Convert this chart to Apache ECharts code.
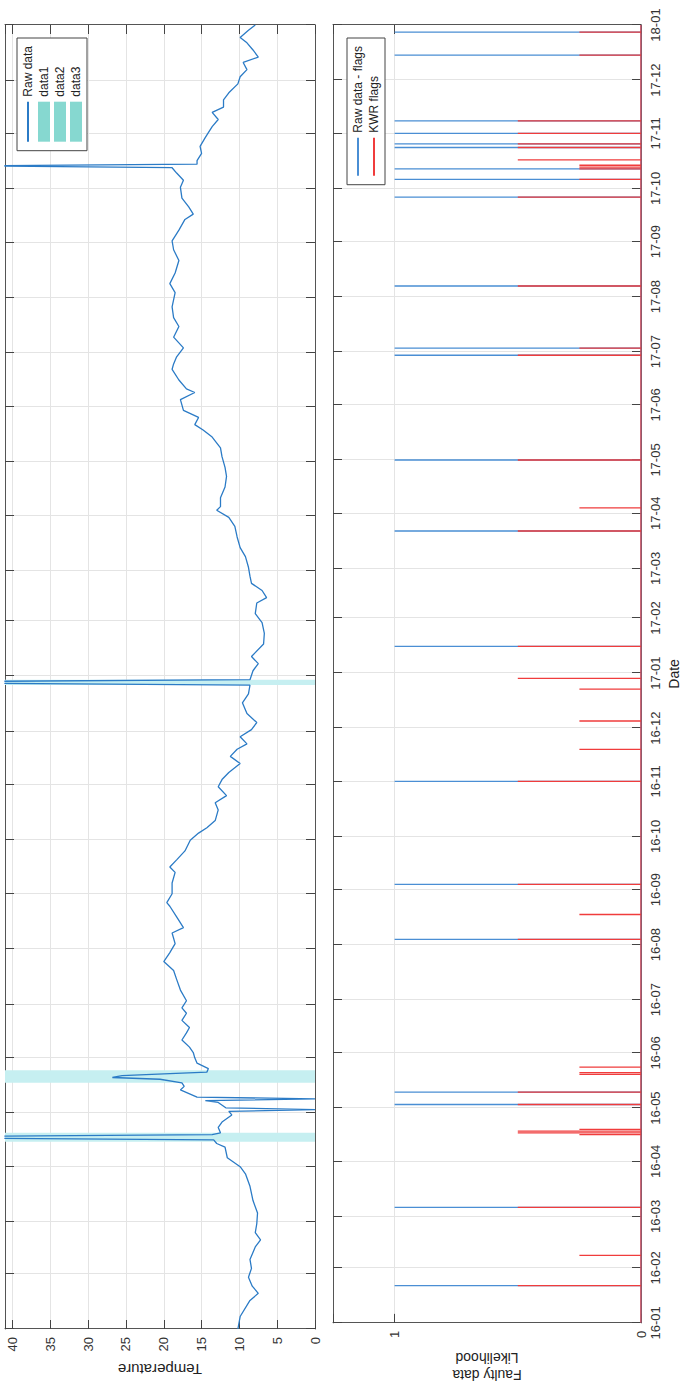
<!DOCTYPE html>
<html><head><meta charset="utf-8">
<script src="https://cdn.jsdelivr.net/npm/echarts@6/dist/echarts.min.js"></script>
<style>
html,body{margin:0;padding:0;width:682px;height:1391px;overflow:hidden;background:#fff}
#c{position:absolute;left:0;top:0;width:1391px;height:682px;transform-origin:0 0;transform:translateY(1391px) rotate(-90deg);}
</style></head><body><div id="c"></div>
<script>
// ---- data ----
const dateMin = '2016-01-01';
const dateMax = '2018-01-01';
const tempDates = [
'2016-01-01','2016-01-08','2016-01-17','2016-01-21','2016-01-25','2016-01-30','2016-02-04','2016-02-09','2016-02-16','2016-02-20',
'2016-02-24','2016-02-29','2016-03-06','2016-03-13','2016-03-21','2016-03-28','2016-04-01','2016-04-06','2016-04-12','2016-04-14',
'2016-04-16','2016-04-17','2016-04-18','2016-04-19','2016-04-20','2016-04-23','2016-04-26','2016-04-30','2016-05-02','2016-05-03',
'2016-05-04','2016-05-07','2016-05-08','2016-05-09','2016-05-10','2016-05-14','2016-05-16','2016-05-18','2016-05-20','2016-05-21',
'2016-05-22','2016-05-23','2016-05-24','2016-05-26','2016-05-29','2016-06-01','2016-06-04','2016-06-07','2016-06-11','2016-06-15',
'2016-06-18','2016-06-22','2016-06-26','2016-06-29','2016-07-03','2016-07-09','2016-07-15','2016-07-20','2016-07-25','2016-07-30',
'2016-08-04','2016-08-10','2016-08-13','2016-08-19','2016-08-25','2016-08-27','2016-09-01','2016-09-07','2016-09-13','2016-09-16',
'2016-09-20','2016-09-25','2016-10-01','2016-10-05','2016-10-08','2016-10-12','2016-10-18','2016-10-22','2016-10-26','2016-10-31',
'2016-11-04','2016-11-08','2016-11-13','2016-11-17','2016-11-21','2016-11-24','2016-11-28','2016-12-02','2016-12-06','2016-12-11',
'2016-12-17','2016-12-22','2016-12-27','2016-12-28','2016-12-29','2016-12-30','2017-01-04','2017-01-08','2017-01-12','2017-01-19',
'2017-01-25','2017-01-31','2017-02-05','2017-02-11','2017-02-14','2017-02-18','2017-02-22','2017-02-26','2017-03-03','2017-03-09',
'2017-03-14','2017-03-20','2017-03-26','2017-03-31','2017-04-04','2017-04-06','2017-04-11','2017-04-17','2017-04-23','2017-04-28',
'2017-05-04','2017-05-09','2017-05-15','2017-05-19','2017-05-22','2017-05-26','2017-05-30','2017-06-05','2017-06-09','2017-06-11',
'2017-06-16','2017-06-22','2017-06-25','2017-06-29','2017-07-04','2017-07-10','2017-07-16','2017-07-21','2017-07-27','2017-08-04',
'2017-08-09','2017-08-15','2017-08-22','2017-08-28','2017-09-02','2017-09-08','2017-09-14','2017-09-17','2017-09-21','2017-09-26',
'2017-10-02','2017-10-06','2017-10-10','2017-10-13','2017-10-14','2017-10-15','2017-10-17','2017-10-21','2017-10-25','2017-10-30',
'2017-11-05','2017-11-09','2017-11-13','2017-11-16','2017-11-20','2017-11-24','2017-11-29','2017-12-03','2017-12-07','2017-12-11',
'2017-12-14','2017-12-18','2017-12-22','2017-12-25','2017-12-29','2018-01-01'];
const tempValues = [
10.2,9.9,8.6,7.5,8.3,8.8,8.4,8.6,7.9,7.2,
7.9,7.7,7.6,8.2,8.6,9.2,9.9,11.6,11.9,13.0,
13.4,45,45,13.6,12.5,12.8,12.3,11.0,11.4,0,
11.8,12.8,14.5,0,15.6,17.8,17.3,17.6,20.5,26.8,
25.5,20.0,14.3,14.1,15.6,15.9,16.1,16.6,17.6,17.0,
16.6,17.6,17.0,17.6,17.0,17.8,18.3,18.7,20.0,19.2,
18.5,18.9,17.4,18.3,19.2,19.6,18.9,18.9,18.5,19.2,
18.3,17.2,16.5,15.4,14.3,13.2,12.8,13.2,11.7,12.8,
12.3,11.4,9.9,11.2,10.3,9.0,9.9,8.4,7.7,9.0,
9.6,8.8,8.6,45,45,8.6,8.2,7.5,8.4,6.8,
6.7,7.0,7.9,7.7,6.4,7.0,8.4,8.6,8.8,9.2,
9.9,10.3,10.6,11.4,13.0,12.5,12.5,11.9,11.7,11.9,
12.3,12.5,13.6,14.8,15.9,15.4,17.4,17.8,15.9,17.0,
18.0,18.9,18.7,18.3,17.4,18.7,18.0,18.7,18.9,18.5,
19.2,18.5,18.0,18.7,18.9,18.0,17.2,16.1,16.7,17.6,
17.8,17.4,18.3,18.9,45,15.6,15.6,15.0,15.2,14.5,
13.6,12.8,13.6,12.1,12.1,11.4,10.2,9.9,9.0,9.5,
7.5,8.2,9.0,9.9,8.8,7.9];
const bandNames = ['data1','data2','data3'];
const bandStart = ['2016-04-15','2016-05-18','2016-12-27'];
const bandEnd   = ['2016-04-20','2016-05-25','2016-12-30'];
const rawFlagDates = ['2016-01-22','2016-03-06','2016-05-03','2016-05-10','2016-08-04','2016-09-04','2016-11-01','2017-01-16','2017-03-22','2017-05-01','2017-06-29','2017-07-03','2017-08-07','2017-09-26','2017-10-06','2017-10-12','2017-10-24','2017-10-26','2017-11-01','2017-11-08','2017-12-15','2017-12-28'];
const rawFlagValues = [1,1,1,1,1,1,1,1,1,1,1,1,1,1,1,1,1,1,1,1,1,1];
const kwrFlagDates = ['2016-01-22','2016-02-08','2016-03-06','2016-04-16','2016-04-17','2016-04-18','2016-04-19','2016-05-03','2016-05-10','2016-05-20','2016-05-21','2016-05-24','2016-08-04','2016-08-18','2016-09-04','2016-11-01','2016-11-19','2016-12-05','2016-12-23','2016-12-29','2017-01-16','2017-03-22','2017-04-04','2017-05-01','2017-06-29','2017-07-03','2017-08-07','2017-09-26','2017-10-06','2017-10-12','2017-10-13','2017-10-14','2017-10-17','2017-10-24','2017-10-26','2017-11-01','2017-11-08','2017-12-15','2017-12-28'];
const kwrFlagValues = [0.5,0.25,0.5,0.25,0.5,0.5,0.25,0.5,0.5,0.25,0.25,0.25,0.5,0.25,0.5,0.5,0.25,0.25,0.25,0.5,0.5,0.5,0.25,0.5,0.5,0.25,0.5,0.5,0.25,0.25,0.25,0.25,0.5,0.5,0.5,0.5,0.5,0.25,0.25];
const tempTicks = [0,5,10,15,20,25,30,35,40];
const likeTicks = [0,1];

// ---- build ----
function stems(dates, vals){
  const pts=[[dateMin,0]];
  dates.forEach((d,i)=>{pts.push([d,0]);pts.push([d,vals[i]]);pts.push([d,0]);});
  pts.push([dateMax,0]);
  return pts;
}
const FONT='"Liberation Sans", Arial, sans-serif';
const frame={show:true,onZero:false,lineStyle:{color:'#555',width:1}};
const tick={show:true,inside:true,length:9,lineStyle:{color:'#444',width:1}};
const grid1={lineStyle:{color:'#e4e4e4',width:1}};
function timeAxis(gi,pos,opts){
  return Object.assign({gridIndex:gi,type:'time',position:pos,min:dateMin,max:dateMax,
    splitNumber:24,minInterval:28*86400000,maxInterval:31*86400000,
    axisLine:frame,axisTick:tick,axisLabel:{show:false},splitLine:{show:false}},opts||{});
}
function valAxis(gi,pos,max,interval,ticks,opts){
  return Object.assign({gridIndex:gi,type:'value',position:pos,min:0,max:max,interval:interval,
    axisLine:frame,axisTick:tick,axisLabel:{show:false},splitLine:{show:false}},opts||{});
}
const noSym={opacity:0};
const chart=echarts.init(document.getElementById('c'),null,{renderer:'svg',width:1391,height:682});
const option={
  animation:false,
  backgroundColor:'#fff',
  textStyle:{fontFamily:FONT},
  grid:[{left:62,right:25,top:5,height:310},{left:62,right:25,top:333,height:309}],
  xAxis:[
    timeAxis(0,'bottom',{splitLine:Object.assign({show:true},grid1)}),
    timeAxis(0,'top'),
    timeAxis(1,'bottom',{splitLine:Object.assign({show:true},grid1),
      axisLabel:{show:true,formatter:'{yy}-{MM}',fontSize:13,color:'#333',margin:8,showMinLabel:true,showMaxLabel:true,hideOverlap:false,fontFamily:FONT},
      name:'Date',nameLocation:'middle',nameGap:26,nameTextStyle:{fontSize:14,color:'#222',fontFamily:FONT}}),
    timeAxis(1,'top')
  ],
  yAxis:[
    valAxis(0,'left',41,5,tempTicks,{splitLine:Object.assign({show:true},grid1),
      axisLabel:{show:true,fontSize:13,color:'#333',margin:8,fontFamily:FONT,
        formatter:v=>tempTicks.indexOf(v)>=0?String(v):''},
      name:'Temperature',nameLocation:'middle',nameGap:30,nameTextStyle:{fontSize:15,color:'#222',fontFamily:FONT}}),
    valAxis(0,'right',41,5,tempTicks),
    valAxis(1,'left',1.25,1,likeTicks,{splitLine:Object.assign({show:true},grid1),
      axisLabel:{show:true,fontSize:13,color:'#333',margin:8,fontFamily:FONT,
        formatter:v=>likeTicks.indexOf(v)>=0?String(v):''},
      name:'Faulty data\nLikelihood',nameLocation:'middle',nameGap:24,nameTextStyle:{fontSize:14,color:'#222',lineHeight:17,fontFamily:FONT}}),
    valAxis(1,'right',1.25,1,likeTicks)
  ],
  legend:[
    {right:38,top:17,orient:'vertical',itemWidth:40,itemHeight:12,itemGap:4,padding:[5,8,5,8],
     borderColor:'#444',borderWidth:1,backgroundColor:'#fff',
     textStyle:{fontSize:12,color:'#222',fontFamily:FONT},
     data:[{name:'Raw data',itemStyle:noSym}].concat(bandNames.map(n=>({name:n,icon:'rect'})))},
    {right:38,top:347,orient:'vertical',itemWidth:38,itemHeight:12,itemGap:4,padding:[5,8,5,8],
     borderColor:'#444',borderWidth:1,backgroundColor:'#fff',
     textStyle:{fontSize:12,color:'#222',fontFamily:FONT},
     data:[{name:'Raw data - flags',itemStyle:noSym},{name:'KWR flags',itemStyle:noSym}]}
  ],
  series:[
    ...bandNames.map((n,i)=>({name:n,type:'line',xAxisIndex:0,yAxisIndex:0,data:[],symbol:'none',
      itemStyle:{color:'#86d8d0'},lineStyle:{color:'#86d8d0'},z:1,
      markArea:{silent:true,itemStyle:{color:'#c6eff1',opacity:1},data:[[{xAxis:bandStart[i]},{xAxis:bandEnd[i]}]]}})),
    {name:'Raw data',type:'line',xAxisIndex:0,yAxisIndex:0,symbol:'none',showSymbol:false,clip:true,z:3,
     data:tempDates.map((d,i)=>[d,tempValues[i]]),
     itemStyle:{color:'#2b7bc6'},lineStyle:{color:'#2b7bc6',width:1.3}},
    {name:'Raw data - flags',type:'line',xAxisIndex:2,yAxisIndex:2,symbol:'none',showSymbol:false,z:3,
     data:stems(rawFlagDates,rawFlagValues),
     itemStyle:{color:'#4a8ed4'},lineStyle:{color:'#4a8ed4',width:1.3}},
    {name:'KWR flags',type:'line',xAxisIndex:2,yAxisIndex:2,symbol:'none',showSymbol:false,z:4,
     data:stems(kwrFlagDates,kwrFlagValues),
     itemStyle:{color:'#f03c3c'},lineStyle:{color:'#f03c3c',width:1.3}}
  ]
};
chart.setOption(option);
</script></body></html>
